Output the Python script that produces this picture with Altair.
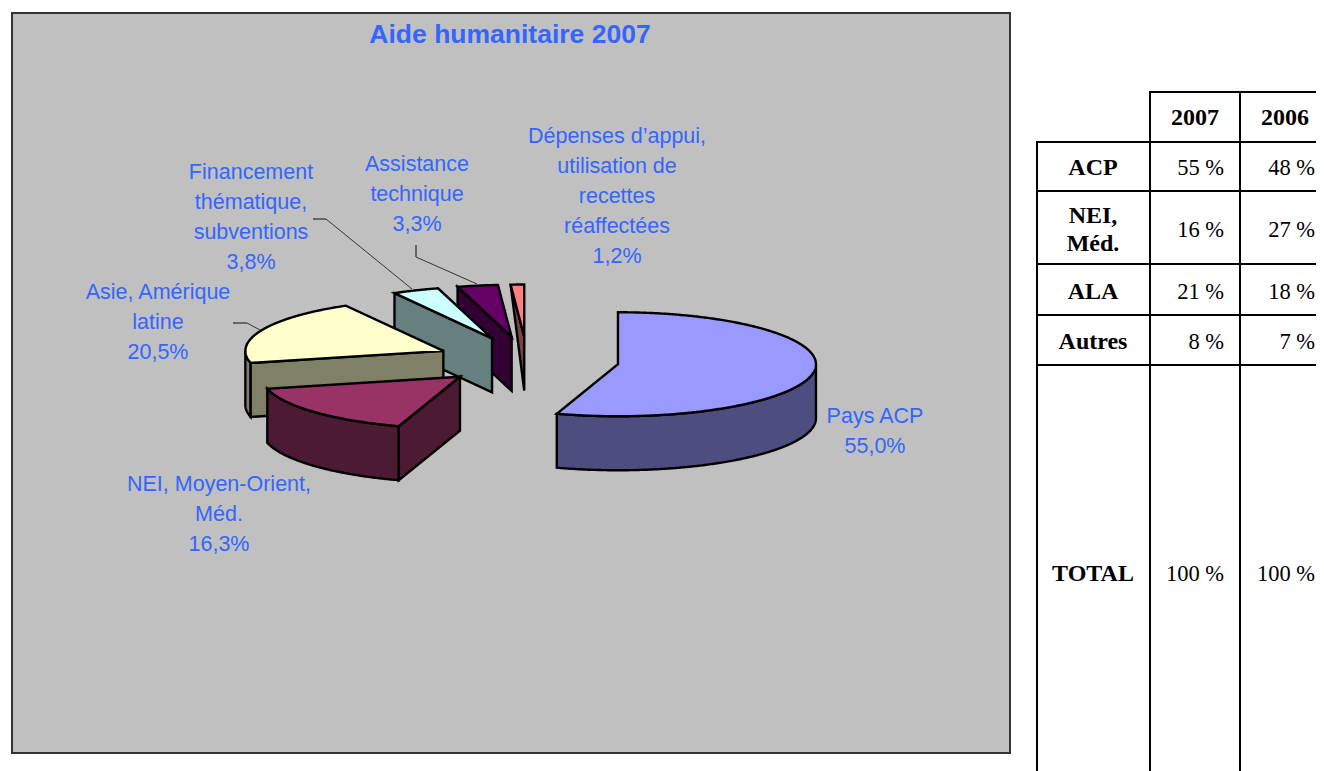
import math
import altair as alt
import pandas as pd

# ---------- data ----------
slice_names = ["Pays ACP", "NEI, Moyen-Orient, Méd.", "Asie, Amérique latine",
               "Financement thématique, subventions", "Assistance technique",
               "Dépenses d'appui"]
slice_shares = [55.0, 16.3, 20.5, 3.8, 3.3, 1.1]
top_colors = ["#9999FF", "#993366", "#FFFFCC", "#CCFFFF", "#660066", "#FF8080"]
wall_colors = ["#4D4D80", "#4D1A33", "#808066", "#668080", "#330033", "#804040"]

title_text = "Aide humanitaire 2007"
label_lines = [
    ["Pays ACP", "55,0%"],
    ["NEI, Moyen-Orient,", "Méd.", "16,3%"],
    ["Asie, Amérique", "latine", "20,5%"],
    ["Financement", "thématique,", "subventions", "3,8%"],
    ["Assistance", "technique", "3,3%"],
    ["Dépenses d’appui,", "utilisation de", "recettes", "réaffectées", "1,2%"],
]

table_rows = [["ACP"], ["NEI,", "Méd."], ["ALA"], ["Autres"], ["TOTAL"]]
table_years = ["2007", "2006"]
col_2007 = ["55 %", "16 %", "21 %", "8 %", "100 %"]
col_2006 = ["48 %", "27 %", "18 %", "7 %", "100 %"]

# ---------- layout ----------
W, H = 1316, 771
PANEL = (12, 13, 1010, 753)
PIE_C = (527.4, 360.5)
RX, RY, DEPTH = 198, 52, 54
EXPLODE_X, EXPLODE_Y = 91.7, 24
LABEL_POS = [(875, 417), (219, 484.5), (158, 293), (251, 173), (417, 165), (617, 137)]
LINE_STEP = 30
LABEL_COLOR = "#3366FF"
LEADERS = [[(247, 323), (260, 330)],
           [(326, 219), (412, 289)],
           [(416, 257), (477, 284)]]
LEADER_STUBS = [[(233, 323), (247, 323)],
                [(313, 219), (326, 219)],
                [(416, 245), (416, 257)]]
V_LINES = [(1037, 142), (1150, 92), (1240, 92)]
H_LINES = [(92, 1149), (142, 1036), (191, 1036), (264, 1036), (315, 1036), (365, 1036)]
ROW_Y = [168, 230, 292, 342, 574]
NEI_LINE_Y = [216, 244]
LABEL_X, C2007, C2006, HEAD_Y = 1093, 1224, 1315, 118
HEAD_X = [1195, 1285]
SERIF = "Liberation Serif"
SANS = "Liberation Sans"

xs = alt.Scale(domain=[8, W], nice=False, zero=False)
ys = alt.Scale(domain=[H, 8], nice=False, zero=False)
X = lambda f: alt.X(f, scale=xs, axis=None)
Y = lambda f: alt.Y(f, scale=ys, axis=None)


def polygon(points, fill):
    df = pd.DataFrame({"x": [p[0] for p in points], "y": [p[1] for p in points],
                       "i": range(len(points))})
    return alt.Chart(df).mark_line(filled=True, fill=fill, stroke="black", strokeWidth=2.4,
                                   interpolate="linear-closed", strokeJoin="miter").encode(
        x=X("x:Q"), y=Y("y:Q"), order="i:Q")


def ell(apex, deg, drop=0):
    a = math.radians(deg)
    return (apex[0] + RX * math.sin(a), apex[1] - RY * math.cos(a) + drop)


def arc(apex, a0, a1, drop=0):
    n = max(2, int(abs(a1 - a0) * 2))
    return [ell(apex, a0 + (a1 - a0) * k / n, drop) for k in range(n + 1)]


def polylines(groups):
    out = []
    for k, pts in enumerate(groups):
        for i, p in enumerate(pts):
            out.append({"x": p[0], "y": p[1], "k": k, "i": i})
    return pd.DataFrame(out)


total = sum(slice_shares)
angles, acc = [], 0.0
for s in slice_shares:
    angles.append((acc / total * 360, (acc + s) / total * 360))
    acc += s

layers = []
# panel
panel_df = pd.DataFrame([{"x0": PANEL[0], "x1": PANEL[2], "y0": PANEL[1], "y1": PANEL[3]}])
layers.append(alt.Chart(panel_df).mark_rect(fill="#C0C0C0", stroke="#333333", strokeWidth=2).encode(
    x=X("x0:Q"), x2="x1:Q", y=Y("y0:Q"), y2="y1:Q"))

# pie slices, back to front
for idx in [5, 4, 3, 2, 1, 0]:
    a0, a1 = angles[idx]
    mid = math.radians((a0 + a1) / 2)
    apex = (PIE_C[0] + EXPLODE_X * math.sin(mid), PIE_C[1] - EXPLODE_Y * math.cos(mid))
    w0, w1 = max(a0, 90), min(a1, 270)
    if w1 > w0:
        layers.append(polygon(arc(apex, w0, w1) + arc(apex, w1, w0, DEPTH), wall_colors[idx]))
    if a0 > 180:
        s = ell(apex, a0)
        face = [apex, s, (s[0], s[1] + DEPTH), (apex[0], apex[1] + DEPTH)]
        if idx == 5:
            face = [apex, s, (apex[0], apex[1] + DEPTH)]
        layers.append(polygon(face, wall_colors[idx]))
    layers.append(polygon([apex] + arc(apex, a0, a1), top_colors[idx]))

# leaders
layers.append(alt.Chart(polylines(LEADERS)).mark_line(color="#333333", strokeWidth=1).encode(
    x=X("x:Q"), y=Y("y:Q"), detail="k:N", order="i:Q"))
layers.append(alt.Chart(polylines(LEADER_STUBS)).mark_line(color="#666666", strokeWidth=2).encode(
    x=X("x:Q"), y=Y("y:Q"), detail="k:N", order="i:Q"))

# pie labels
rows = []
for lines, (lx, ly) in zip(label_lines, LABEL_POS):
    for i, t in enumerate(lines):
        rows.append({"x": lx, "y": ly + i * LINE_STEP, "t": t})
layers.append(alt.Chart(pd.DataFrame(rows)).mark_text(font=SANS, fontSize=21.5, color=LABEL_COLOR,
                                                      align="center", baseline="middle").encode(
    x=X("x:Q"), y=Y("y:Q"), text="t:N"))

# title
layers.append(alt.Chart(pd.DataFrame([{"x": 510, "y": 35, "t": title_text}])).mark_text(
    font=SANS, fontSize=26.5, fontWeight="bold", color=LABEL_COLOR, align="center", baseline="middle").encode(
    x=X("x:Q"), y=Y("y:Q"), text="t:N"))

# table grid
rows = [{"x0": x, "x1": x, "y0": y, "y1": H} for x, y in V_LINES]
rows += [{"x0": x, "x1": W, "y0": y, "y1": y} for y, x in H_LINES]
layers.append(alt.Chart(pd.DataFrame(rows)).mark_rule(color="black", strokeWidth=2).encode(
    x=X("x0:Q"), x2="x1:Q", y=Y("y0:Q"), y2="y1:Q"))

# table text
bold_rows = [{"x": hx, "y": HEAD_Y, "t": t} for hx, t in zip(HEAD_X, table_years)]
for lines, ry in zip(table_rows, ROW_Y):
    if len(lines) == 2:
        bold_rows += [{"x": LABEL_X, "y": yy, "t": t} for yy, t in zip(NEI_LINE_Y, lines)]
    else:
        bold_rows.append({"x": LABEL_X, "y": ry, "t": lines[0]})
layers.append(alt.Chart(pd.DataFrame(bold_rows)).mark_text(
    font=SERIF, fontSize=24, fontWeight="bold", color="black", align="center", baseline="middle").encode(
    x=X("x:Q"), y=Y("y:Q"), text="t:N"))
val_rows = [{"x": C2007, "y": ry, "t": t} for ry, t in zip(ROW_Y, col_2007)]
val_rows += [{"x": C2006, "y": ry, "t": t} for ry, t in zip(ROW_Y, col_2006)]
layers.append(alt.Chart(pd.DataFrame(val_rows)).mark_text(
    font=SERIF, fontSize=22.5, color="black", align="right", baseline="middle").encode(
    x=X("x:Q"), y=Y("y:Q"), text="t:N"))

chart = alt.layer(*layers).properties(
    width=W - 8, height=H - 8, padding=0, background="white",
    autosize=alt.AutoSizeParams(type="none")
).configure_view(stroke=None)
chart.save("out.html", embed_options={"renderer": "svg", "actions": False})
